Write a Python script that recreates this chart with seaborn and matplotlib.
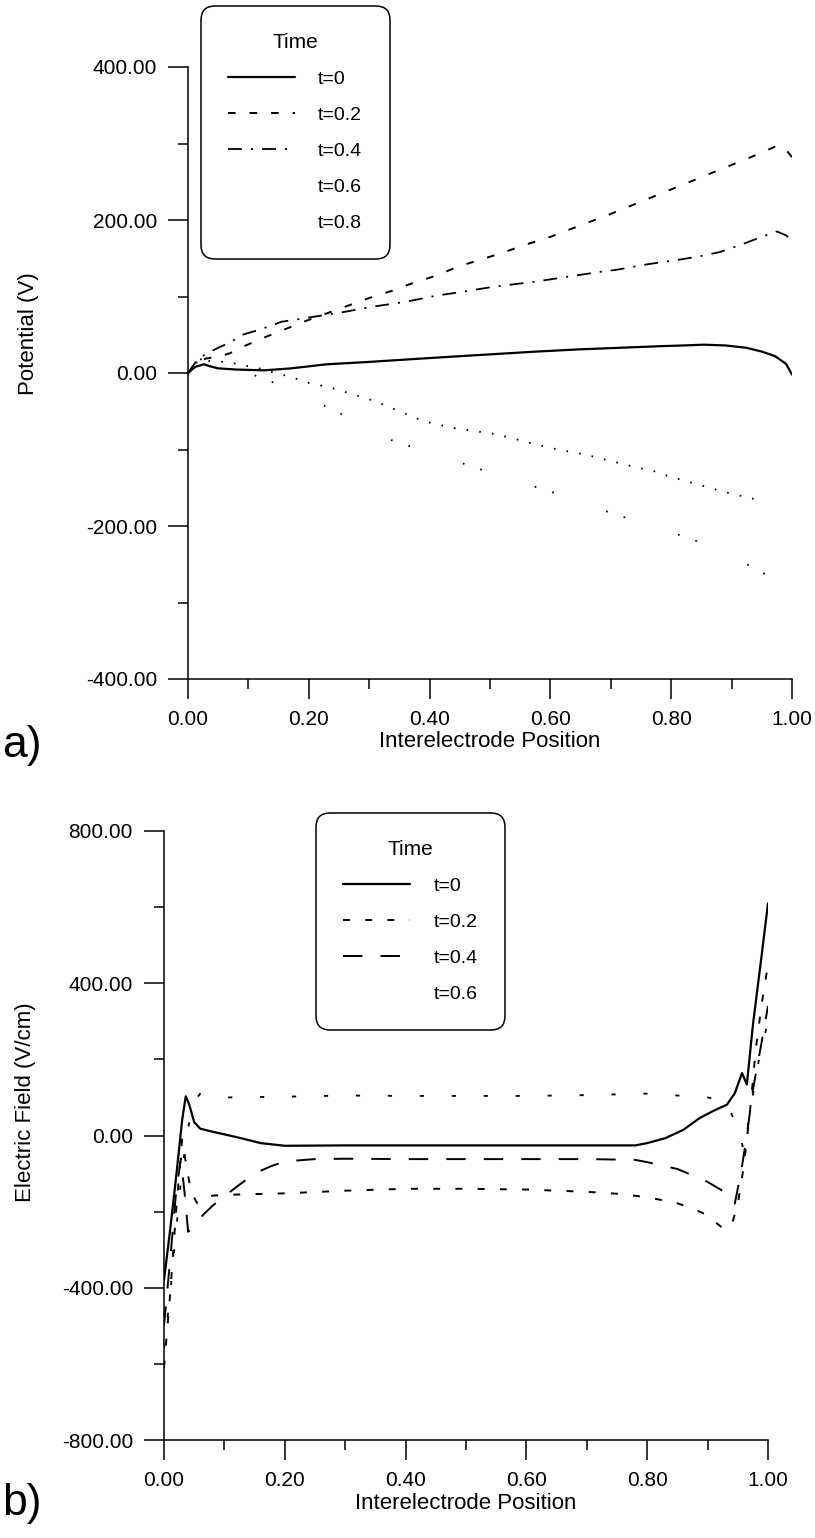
import matplotlib
matplotlib.use("Agg")
import matplotlib.pyplot as plt
from matplotlib.lines import Line2D
from matplotlib.ticker import MultipleLocator, FormatStrFormatter
import seaborn as sns

# ---------------- data: a) potential profiles ----------------
pos_a_t0 = [0.0, 0.012, 0.026, 0.04, 0.05, 0.08, 0.126, 0.17, 0.23, 0.3, 0.369, 0.45,
            0.577, 0.65, 0.716, 0.78, 0.82, 0.854, 0.89, 0.924, 0.95, 0.972, 0.99, 1.0]
pot_a_t0 = [0.0, 8, 11.4, 8, 6.1, 4.5, 3.5, 6, 11.4, 14.5, 18, 22,
            28, 31, 33, 35, 36, 37, 36, 33, 28, 22, 12, -2]

pos_a_t02 = [0.0, 0.015, 0.03, 0.05, 0.07, 0.09, 0.125, 0.16, 0.195, 0.23, 0.265, 0.3,
             0.34, 0.37, 0.41, 0.45, 0.48, 0.52, 0.56, 0.6, 0.65, 0.7, 0.75, 0.8,
             0.85, 0.9, 0.95, 0.975, 0.99, 1.0]
pot_a_t02 = [0.0, 14, 19, 21, 26, 34, 46, 57, 68, 78, 88, 98,
             108, 117, 127, 140, 147, 157, 168, 178, 193, 208, 224, 240,
             256, 272, 288, 297, 292, 282]

pos_a_t04 = [0.0, 0.015, 0.03, 0.05, 0.07, 0.09, 0.12, 0.155, 0.18, 0.22, 0.26, 0.3,
             0.36, 0.41, 0.445, 0.5, 0.55, 0.58, 0.63, 0.68, 0.71, 0.76, 0.82, 0.85,
             0.88, 0.92, 0.95, 0.975, 0.99, 1.0]
pot_a_t04 = [0.0, 17, 25, 33, 40, 50, 57, 67, 70, 75, 80, 86,
             93, 101, 105, 112, 117, 120, 126, 132, 135, 142, 149, 153,
             158, 169, 178, 185, 180, 173]

pos_a_t06 = [0.0, 0.015, 0.03, 0.05, 0.07, 0.09, 0.11, 0.13, 0.17, 0.2, 0.24, 0.27,
             0.31, 0.35, 0.39, 0.44, 0.51, 0.54, 0.6, 0.64, 0.67, 0.7, 0.74, 0.77,
             0.8, 0.855, 0.885, 0.95]
pot_a_t06 = [0.0, 14, 16, 15, 14, 10, 8, 3, -5, -13, -20, -27,
             -37, -50, -63, -72, -80, -86, -98, -104, -109, -115, -123, -128,
             -136, -148, -155, -167]

pos_a_t08 = [0.0, 0.02, 0.05, 0.1, 0.15, 0.2, 0.25, 0.3, 0.33, 0.4, 0.5, 0.6,
             0.65, 0.7, 0.8, 0.85, 0.9, 0.95, 1.0]
pot_a_t08 = [0.0, 18, 15, 0, -15, -33, -52, -73, -86, -104, -130, -155,
             -168, -183, -208, -222, -240, -260, -287]

# ---------------- data: b) electric field profiles ----------------
pos_b_t0 = [0.0, 0.01, 0.02, 0.03, 0.036, 0.042, 0.05, 0.06, 0.08, 0.1, 0.13, 0.16,
            0.2, 0.3, 0.4, 0.5, 0.6, 0.7, 0.78, 0.8, 0.83, 0.86, 0.887, 0.91,
            0.932, 0.945, 0.957, 0.965, 0.975, 0.99, 1.0]
fld_b_t0 = [-380, -250, -110, 40, 103, 80, 35, 18, 10, 3, -8, -20,
            -27, -26, -26, -26, -26, -26, -26, -20, -7, 15, 46, 65,
            81, 111, 164, 134, 290, 480, 610]

pos_b_t02 = [0.0, 0.01, 0.02, 0.03, 0.035, 0.045, 0.055, 0.07, 0.08, 0.1, 0.2, 0.3,
             0.4, 0.5, 0.6, 0.7, 0.75, 0.8, 0.85, 0.88, 0.9, 0.926, 0.94, 0.95,
             0.96, 0.97, 0.98, 0.99, 1.0]
fld_b_t02 = [-610, -420, -200, -10, -60, -150, -178, -165, -158, -156, -152, -145,
             -140, -140, -142, -148, -153, -162, -178, -195, -210, -245, -235, -180,
             -80, 60, 230, 350, 450]

pos_b_t04 = [0.0, 0.01, 0.02, 0.028, 0.034, 0.04, 0.05, 0.065, 0.08, 0.1, 0.12, 0.15,
             0.175, 0.2, 0.25, 0.3, 0.4, 0.5, 0.6, 0.7, 0.78, 0.8, 0.85, 0.88,
             0.9, 0.93, 0.945, 0.955, 0.965, 0.975, 0.99, 1.0]
fld_b_t04 = [-500, -330, -150, -60, -150, -253, -235, -208, -185, -160, -135, -100,
             -82, -68, -62, -61, -62, -62, -62, -62, -64, -70, -88, -108,
             -122, -150, -179, -100, 0, 120, 250, 340]

pos_b_t06 = [0.0, 0.01, 0.02, 0.03, 0.04, 0.048, 0.06, 0.08, 0.1, 0.2, 0.3, 0.4,
             0.5, 0.6, 0.7, 0.8, 0.9, 0.93, 0.95, 0.96, 0.97, 0.985, 1.0]
fld_b_t06 = [-560, -420, -250, -90, 20, 85, 110, 105, 100, 102, 105, 104,
             104, 104, 106, 110, 100, 90, 20, -40, 60, 200, 300]

labels_a = ["t=0", "t=0.2", "t=0.4", "t=0.6", "t=0.8"]
labels_b = ["t=0", "t=0.2", "t=0.4", "t=0.6"]
yticks_a = [-400, -200, 0, 200, 400]
yticks_b = [-800, -400, 0, 400, 800]
xticks = [0.0, 0.2, 0.4, 0.6, 0.8, 1.0]

# ---------------- figure setup ----------------
W, H = 815, 1538
sns.set_theme(style="ticks")
plt.rcParams["font.family"] = ["Liberation Sans", "DejaVu Sans"]
plt.rcParams["lines.scale_dashes"] = False
plt.rcParams["axes.linewidth"] = 1.1
FS = 14        # legend text
FS_TICK = 15   # tick labels
FS_LAB = 16    # axis labels

fig = plt.figure(figsize=(W / 100, H / 100), dpi=100)
fig.patch.set_facecolor("white")
ax_a = fig.add_axes([188 / W, 1 - 679 / H, 604 / W, 612 / H])
ax_b = fig.add_axes([164 / W, 1 - 1440 / H, 604 / W, 609 / H])

styles_a = {
    "t=0": dict(linestyle="-", lw=1.6),
    "t=0.2": dict(linestyle=(0, (5.5, 10)), lw=1.4),
    "t=0.4": dict(linestyle=(0, (10, 6.5, 1.5, 6.5)), lw=1.3),
    "t=0.6": dict(linestyle=(0, (1.2, 8)), lw=1.3),
    "t=0.8": dict(linestyle=(0, (1.2, 12, 1.2, 40)), lw=1.3),
}
styles_b = {
    "t=0": dict(linestyle="-", lw=1.6),
    "t=0.2": dict(linestyle=(0, (5, 11)), lw=1.4),
    "t=0.4": dict(linestyle=(0, (14, 13)), lw=1.4),
    "t=0.6": dict(linestyle=(0, (3, 20)), lw=1.3),
}

series_a = [(pos_a_t0, pot_a_t0), (pos_a_t02, pot_a_t02), (pos_a_t04, pot_a_t04),
            (pos_a_t06, pot_a_t06), (pos_a_t08, pot_a_t08)]
series_b = [(pos_b_t0, fld_b_t0), (pos_b_t02, fld_b_t02), (pos_b_t04, fld_b_t04),
            (pos_b_t06, fld_b_t06)]

for ax, series, labels, styles in [(ax_a, series_a, labels_a, styles_a),
                                   (ax_b, series_b, labels_b, styles_b)]:
    for (xs, ys), lab in zip(series, labels):
        sns.lineplot(x=xs, y=ys, ax=ax, color="black", estimator=None,
                     legend=False, **styles[lab])


def style_axes(ax, ylim, yticks, yminor):
    ax.set_xlim(0, 1)
    ax.set_ylim(*ylim)
    ax.set_xticks(xticks)
    ax.set_yticks(yticks)
    ax.xaxis.set_minor_locator(MultipleLocator(0.1))
    ax.yaxis.set_minor_locator(MultipleLocator(yminor))
    ax.xaxis.set_major_formatter(FormatStrFormatter("%.2f"))
    ax.yaxis.set_major_formatter(FormatStrFormatter("%.2f"))
    for s in ["top", "right"]:
        ax.spines[s].set_visible(False)
    for s in ["left", "bottom"]:
        ax.spines[s].set_color("black")
        ax.spines[s].set_linewidth(1.1)
    ax.tick_params(which="major", direction="out", length=14.4, width=1.1,
                   color="black", labelsize=FS_TICK, labelcolor="black", pad=8)
    ax.tick_params(which="minor", direction="out", length=7.2, width=1.1,
                   color="black")
    ax.set_facecolor("white")
    ax.grid(False)


style_axes(ax_a, (-400, 400), yticks_a, 100)
style_axes(ax_b, (-800, 800), yticks_b, 200)

ax_a.set_xlabel("Interelectrode Position", fontsize=FS_LAB, color="black", va="top")
ax_a.set_ylabel("Potential (V)", fontsize=FS_LAB, color="black")
ax_b.set_xlabel("Interelectrode Position", fontsize=FS_LAB, color="black", va="top")
ax_b.set_ylabel("Electric Field (V/cm)", fontsize=FS_LAB, color="black")
ax_a.xaxis.set_label_coords(0.5, -0.085)
ax_b.xaxis.set_label_coords(0.5, -0.087)
ax_a.yaxis.set_label_coords(-0.246, 0.565)
ax_b.yaxis.set_label_coords(-0.212, 0.555)

fig.text(2 / W, 1 - 745 / H, "a)", fontsize=32, va="center", ha="left", color="black")
fig.text(2 / W, 1 - 1503 / H, "b)", fontsize=32, va="center", ha="left", color="black")


def add_legend(ax, labels, styles, anchor):
    handles = []
    for lab in labels:
        if lab in ("t=0", "t=0.2", "t=0.4"):
            handles.append(Line2D([], [], color="black", **styles[lab]))
        else:
            handles.append(Line2D([], [], linestyle="None"))
    leg = ax.legend(handles, labels, title="Time", loc="upper left",
                    bbox_to_anchor=anchor, bbox_transform=fig.transFigure,
                    borderaxespad=0, frameon=True, fancybox=True,
                    fontsize=FS, title_fontsize=FS + 1, handlelength=3.45,
                    handletextpad=1.18, borderpad=1.4, labelspacing=0.94,
                    framealpha=1)
    frame = leg.get_frame()
    frame.set_edgecolor("black")
    frame.set_facecolor("white")
    frame.set_linewidth(1.1)
    frame.set_boxstyle("round,pad=0,rounding_size=0.7")
    for t in leg.get_texts():
        t.set_color("black")
    leg.get_title().set_color("black")
    return leg


add_legend(ax_a, labels_a, styles_a, (201 / W, 1 - 6 / H))
add_legend(ax_b, labels_b, styles_b, (316 / W, 1 - 813 / H))

fig.savefig("out.png", dpi=100, facecolor="white")
